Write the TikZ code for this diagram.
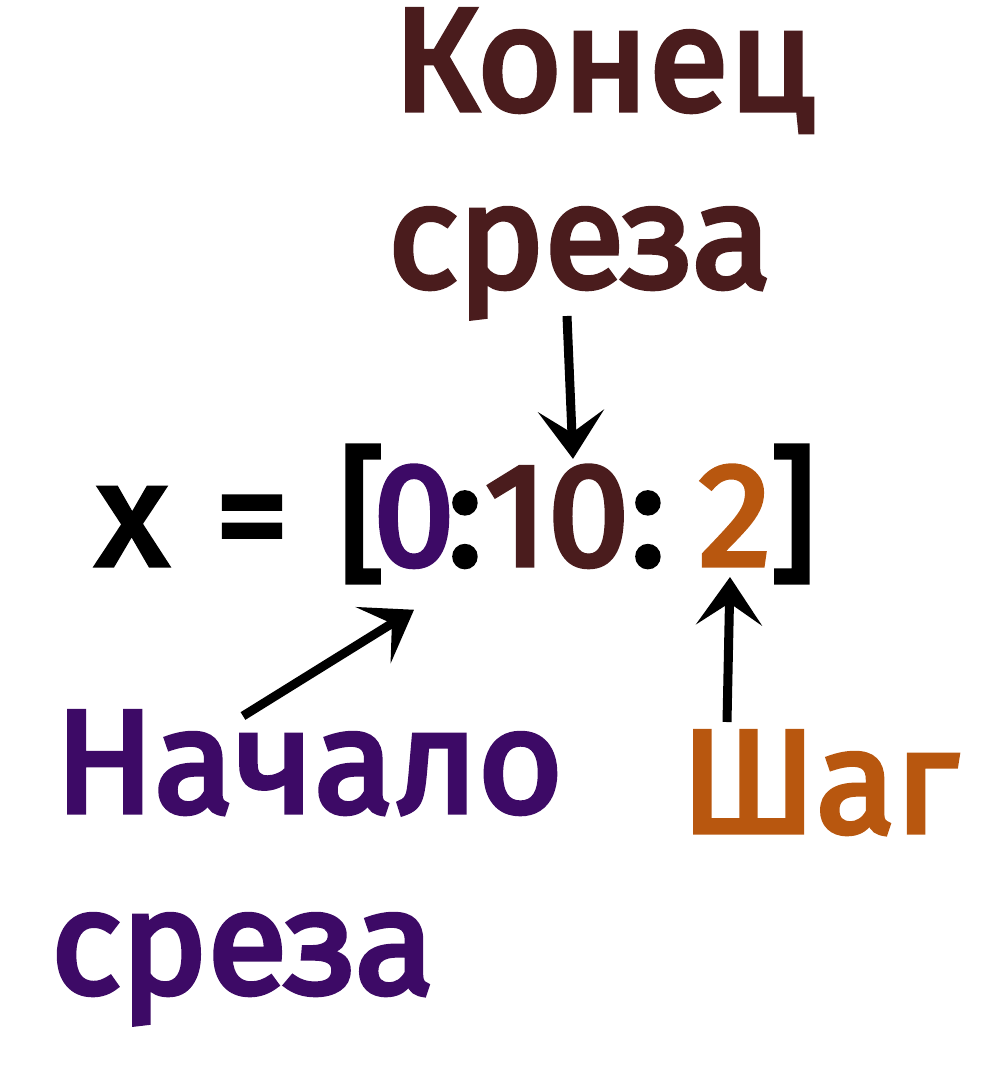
\documentclass[tikz,border=0pt]{standalone}
\usepackage{fontspec}
\setmainfont{Fira Sans}[FakeBold=3.5]
\usepackage{tikz}
\usetikzlibrary{arrows.meta,positioning,calc}
\definecolor{startcol}{HTML}{3D0A66}
\definecolor{stopcol}{HTML}{4A1C1D}
\definecolor{stepcol}{HTML}{B8570F}
\tikzset{
	>={Stealth[length=48pt,width=66pt,inset=22pt]},
	every node/.style={inner sep=0pt, outer sep=0pt, font=\fontsize{146}{180}\selectfont},
	part/.style={anchor=base west},
	mid/.style={anchor=base},
	pointer/.style={->, line width=9pt},
}
\begin{document}
\begin{tikzpicture}[x=1pt,y=-1pt]
	\useasboundingbox (0,0) rectangle (1004,1085);
	% labels
	\node[part, text=stopcol] (stopA) at (393,110) {Конец};
	\node[part, text=stopcol] (stopB) at (388,287) {среза};
	\node[part, text=startcol] (startA) at (55,812) {Начало};
	\node[part, text=startcol] (startB) at (51,993) {среза};
	\node[part, text=stepcol] (stepA) at (681,832) {Шаг};
	% the slice
	\node[mid] (eqx) at (132,565) {x};
	\node[mid] (eqeq) at (252,565) {=};
	\node[mid] (lbr) at (362,565) {[};
	\node[mid, text=startcol] (from) at (414,565) {0};
	\node[mid] (colA) at (465,565) {:};
	\node[mid, text=stopcol] (to) at (557,565) {10};
	\node[mid] (colB) at (648,565) {:};
	\node[mid, text=stepcol] (by) at (735,565) {2};
	\node[mid] (rbr) at (793,565) {]};
	% pointers
	\coordinate (stopTail) at (567,316);
	\coordinate (startTail) at (243,716);
	\coordinate (stepTail) at (727,722);
	\draw[pointer] (stopTail) -- ([xshift=16pt,yshift=7pt]to.north);
	\draw[pointer] (startTail) -- ([yshift=-43pt]from.south);
	\draw[pointer] (stepTail) -- ([xshift=-5pt,yshift=-12pt]by.south);
\end{tikzpicture}
\end{document}
